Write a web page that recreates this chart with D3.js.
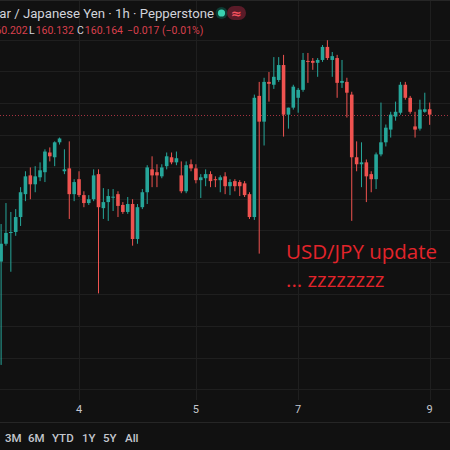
<!DOCTYPE html>
<html><head><meta charset="utf-8">
<script src="https://cdn.jsdelivr.net/npm/d3@7"></script>
<style>
html,body{margin:0;padding:0;background:#111111;overflow:hidden}
svg{display:block}
</style></head><body>
<svg id="c" width="450" height="450"></svg>
<script>
// ---- data ----
const sessions = [["2024-07-03T08:00","2024-07-05T21:00"],["2024-07-07T21:00","2024-07-09T01:00"]];
const open = [159.702,159.758,159.792,159.795,159.842,159.914,159.973,159.945,159.967,159.983,
160.045,160.030,160.077,159.986,159.995,159.914,159.961,159.911,159.886,159.898,
159.977,159.870,159.889,159.905,159.914,159.880,159.858,159.883,159.773,159.873,
159.920,159.992,159.983,159.970,160.002,160.030,160.014,159.973,159.923,160.008,
159.995,159.958,159.964,159.977,159.961,159.958,159.970,159.939,159.955,159.952,
159.948,159.914,159.842,160.223,160.142,160.267,160.258,160.273,160.320,160.164,
160.186,160.217,160.242,160.333,160.333,160.327,160.336,160.377,160.336,160.342,
160.264,160.267,160.227,160.030,160.008,160.014,159.977,159.961,160.039,160.077,
160.117,160.158,160.170,160.258,160.217,160.127,160.120,160.173,160.181];
const high = [159.820,159.886,159.858,159.867,159.936,159.986,159.998,160.002,160.014,160.055,
160.061,160.080,160.092,160.055,160.080,159.961,159.986,159.923,159.911,159.992,
159.992,159.933,159.930,159.930,159.923,159.889,159.905,159.898,159.883,159.930,
160.005,160.033,160.008,160.008,160.045,160.045,160.048,160.017,160.017,160.023,
160.008,159.977,159.992,159.986,159.970,159.973,159.983,159.961,159.961,159.958,
159.955,159.920,160.227,160.267,160.280,160.298,160.345,160.345,160.352,160.186,
160.258,160.248,160.358,160.358,160.342,160.342,160.383,160.398,160.361,160.352,
160.336,160.280,160.236,160.080,160.077,160.023,159.986,160.045,160.202,160.133,
160.173,160.205,160.267,160.267,160.223,160.173,160.211,160.233,160.202];
const low = [159.377,159.752,159.670,159.783,159.814,159.892,159.898,159.920,159.955,159.952,
160.017,160.002,160.070,159.977,159.836,159.892,159.905,159.873,159.880,159.892,
159.602,159.836,159.830,159.861,159.842,159.852,159.852,159.752,159.758,159.867,
159.883,159.936,159.936,159.964,159.992,160.008,160.005,159.917,159.917,159.986,
159.948,159.902,159.939,159.936,159.936,159.920,159.914,159.911,159.923,159.908,
159.905,159.836,159.833,159.727,160.067,160.205,160.245,160.267,160.095,160.120,
160.180,160.170,160.236,160.264,160.305,160.283,160.330,160.336,160.283,160.217,
160.248,160.155,159.830,159.986,159.936,159.889,159.920,159.930,160.033,160.064,
160.092,160.145,160.164,160.211,160.167,160.092,160.114,160.170,160.132];
const close = [159.758,159.792,159.795,159.842,159.920,159.970,159.945,159.970,159.989,160.048,
160.033,160.077,160.089,159.992,159.914,159.952,159.911,159.886,159.898,159.973,
159.873,159.889,159.908,159.906,159.877,159.858,159.883,159.773,159.873,159.920,
159.998,159.973,159.973,159.998,160.033,160.014,160.027,159.923,160.005,159.995,
159.958,159.967,159.977,159.955,159.959,159.967,159.939,159.952,159.939,159.939,
159.911,159.842,160.217,160.142,160.267,160.261,160.283,160.320,160.164,160.186,
160.252,160.242,160.336,160.330,160.327,160.336,160.377,160.342,160.348,160.264,
160.270,160.233,160.030,160.008,160.014,159.970,159.961,160.039,160.077,160.123,
160.164,160.173,160.258,160.217,160.173,160.117,160.180,160.181,160.164];
const priceTicks = [159.3,159.4,159.5,159.6,159.7,159.8,159.9,160.0,160.1,160.2,160.3,160.4];
const dayTicks = ["2024-07-04T00:00","2024-07-05T00:00","2024-07-07T21:00","2024-07-09T00:00"];
const dayLabels = ["4","5","7","9"];
const lastPrice = 160.164;
const title = "U.S. Dollar / Japanese Yen · 1h · Pepperstone";
const ohlcLabels = ["O","H","L","C"];
const ohlcValues = ["160.181","160.202","160.132","160.164"];
const changeText = "−0.017 (−0.01%)";
const ranges = ["3M","6M","YTD","1Y","5Y","All"];
const note = ["USD/JPY update","... zzzzzzzz"];

// ---- layout ----
const W = 450, H = 450, paneBottom = 400;
const UP = "#26a69a", DOWN = "#ef5350";
const svg = d3.select("#c");
svg.append("rect").attr("width",W).attr("height",H).attr("fill","#111111");

const parse = d3.timeParse("%Y-%m-%dT%H:%M");
const fmt = d3.timeFormat("%Y-%m-%dT%H:%M");
const keys = [];
sessions.forEach(([a,b]) => d3.timeHour.range(parse(a), parse(b)).forEach(t => keys.push(fmt(t))));
const data = keys.map((k,i) => ({k, o:open[i], h:high[i], l:low[i], c:close[i]}));

const x = d3.scaleBand().domain(keys).range([-1.335, 432.1]);
const y = d3.scaleLinear().domain([159.3, 160.5]).range([389.4, 7.8]);
const cx = k => x(k) + x.bandwidth()/2;

// grid
const grid = svg.append("g");
grid.selectAll("line.h").data(priceTicks).join("line")
  .attr("x1",0).attr("x2",W)
  .attr("y1",d=>Math.round(y(d))+0.5).attr("y2",d=>Math.round(y(d))+0.5)
  .attr("stroke","#1f1f1f");
grid.selectAll("line.v").data(dayTicks).join("line")
  .attr("x1",d=>Math.round(cx(d))+0.5).attr("x2",d=>Math.round(cx(d))+0.5)
  .attr("y1",0).attr("y2",paneBottom)
  .attr("stroke","#1f1f1f");
svg.append("line").attr("x1",0).attr("x2",W).attr("y1",0.5).attr("y2",0.5).attr("stroke","#262626");

// last price line
svg.append("line").attr("x1",0).attr("x2",W)
  .attr("y1",Math.round(y(lastPrice))+0.5).attr("y2",Math.round(y(lastPrice))+0.5)
  .attr("stroke","#c0394a").attr("stroke-dasharray","1,2").attr("opacity",0.85);

// candles
const g = svg.append("g");
const col = d => d.c >= d.o ? UP : DOWN;
g.selectAll("rect.w").data(data).join("rect")
  .attr("x",d=>cx(d.k)-0.5).attr("width",1)
  .attr("y",d=>y(d.h)).attr("height",d=>Math.max(1,y(d.l)-y(d.h)))
  .attr("fill",col);
g.selectAll("rect.b").data(data).join("rect")
  .attr("x",d=>cx(d.k)-1.8).attr("width",3.6)
  .attr("y",d=>y(Math.max(d.o,d.c)))
  .attr("height",d=>Math.max(1,Math.abs(y(d.o)-y(d.c))))
  .attr("fill",col);

// time axis
const ax = svg.append("g").attr("transform",`translate(0,${paneBottom})`)
  .call(d3.axisBottom(x).tickValues(dayTicks).tickFormat((d,i)=>dayLabels[i]).tickSize(0).tickPadding(5));
ax.select(".domain").remove();
ax.selectAll("text").attr("fill","#c4c7ce").attr("font-family","Roboto").attr("font-size",11);

svg.append("line").attr("x1",0).attr("x2",W).attr("y1",422.5).attr("y2",422.5).attr("stroke","#262626");

// range buttons
const rangeX = [5,28,52,82,103,125];
svg.selectAll("text.r").data(ranges).join("text")
  .attr("x",(d,i)=>rangeX[i]).attr("y",442)
  .attr("fill","#c4c7ce").attr("font-family","Roboto").attr("font-size",11.5).attr("font-weight",500)
  .text(d=>d);

// header
svg.append("text").attr("x",214).attr("y",18).attr("text-anchor","end")
  .attr("fill","#d1d4dc").attr("font-family","Roboto").attr("font-size",13.2).text(title);
const labelX = [-67,-19,29,77], changeX = 127;
const t2 = svg.append("text").attr("y",34).attr("font-family","Roboto").attr("font-size",10.5);
ohlcLabels.forEach((l,i)=>{
  t2.append("tspan").attr("x",labelX[i]).attr("fill","#d1d4dc").text(l);
  t2.append("tspan").attr("fill","#d9404d").attr("dx",1).text(ohlcValues[i]);
});
t2.append("tspan").attr("x",changeX).attr("fill","#d9404d").text(changeText);

// status icons
svg.append("circle").attr("cx",221.5).attr("cy",13).attr("r",6).attr("fill","#0d3b33");
svg.append("circle").attr("cx",221.5).attr("cy",13).attr("r",3.6).attr("fill","#3ad1b0");
svg.append("rect").attr("x",227).attr("y",6).attr("width",19).attr("height",14).attr("rx",7).attr("fill","#5a1b28");
svg.append("text").attr("x",236.5).attr("y",17.5).attr("text-anchor","middle")
  .attr("fill","#f7525f").attr("font-family","DejaVu Sans").attr("font-size",13).attr("font-weight","bold").text("≈");

// annotation
svg.selectAll("text.n").data(note).join("text")
  .attr("x",286).attr("y",(d,i)=>259+i*28)
  .attr("fill","#e3242b").attr("font-family","Open Sans").attr("font-size",20.5)
  .text(d=>d);
</script>
</body></html>
